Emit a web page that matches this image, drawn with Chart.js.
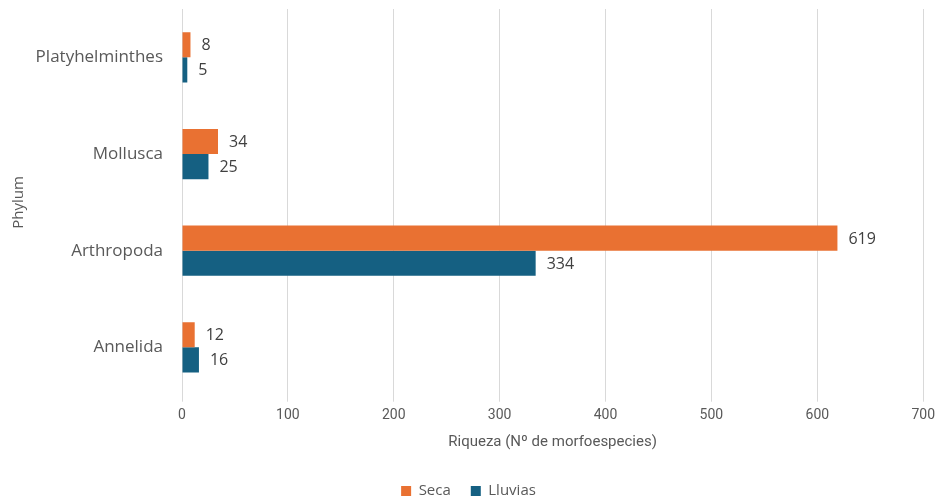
<!DOCTYPE html>
<html>
<head>
<meta charset="utf-8">
<script src="https://cdn.jsdelivr.net/npm/chart.js@4/dist/chart.umd.min.js"></script>
<style>
  html, body { margin: 0; padding: 0; background: #ffffff; }
  #wrap { width: 940px; height: 500px; position: relative; }
</style>
</head>
<body>
<div id="wrap"><canvas id="c" width="940" height="500"></canvas></div>
<script>
// Species richness per phylum, dry vs rainy season
const phyla = ["Platyhelminthes", "Mollusca", "Arthropoda", "Annelida"];
const seca = [8, 34, 619, 12];
const lluvias = [5, 25, 334, 16];
const xTicks = [0, 100, 200, 300, 400, 500, 600, 700];

const FONT = "'Open Sans', 'Lato', sans-serif";
const NARROW = "'Liberation Sans Narrow', 'Roboto', sans-serif";

// Writes each bar's value just past its end
const valueLabels = {
  id: 'valueLabels',
  afterDatasetsDraw(chart) {
    const ctx = chart.ctx;
    ctx.save();
    ctx.font = "16px " + FONT;
    ctx.fillStyle = '#404040';
    ctx.textAlign = 'left';
    ctx.textBaseline = 'middle';
    chart.data.datasets.forEach((ds, i) => {
      const meta = chart.getDatasetMeta(i);
      meta.data.forEach((el, j) => {
        ctx.fillText(String(ds.data[j]), el.x + 11, el.y + 1);
      });
    });
    ctx.restore();
  }
};

new Chart(document.getElementById('c'), {
  type: 'bar',
  data: {
    labels: phyla,
    datasets: [
      { label: 'Seca', data: seca, backgroundColor: '#E97132', categoryPercentage: 0.52, barPercentage: 1.0 },
      { label: 'Lluvias', data: lluvias, backgroundColor: '#156082', categoryPercentage: 0.52, barPercentage: 1.0 }
    ]
  },
  options: {
    indexAxis: 'y',
    responsive: false,
    animation: false,
    layout: { padding: { top: 9, right: 3, left: 0, bottom: -8.5 } },
    plugins: {
      tooltip: { enabled: false },
      legend: {
        position: 'bottom',
        labels: {
          usePointStyle: true,
          pointStyle: 'rect',
          boxWidth: 10,
          boxHeight: 10,
          padding: 20,
          color: '#595959',
          font: { family: FONT, size: 15 }
        }
      }
    },
    scales: {
      x: {
        min: 0,
        max: 700,
        afterBuildTicks(scale) { scale.ticks = xTicks.map(v => ({ value: v })); },
        grid: { color: '#d9d9d9', lineWidth: 1, tickLength: 6, drawTicks: true },
        border: { display: false },
        ticks: { color: '#595959', padding: 5, font: { family: NARROW, size: 14 } },
        title: {
          display: true,
          text: 'Riqueza (Nº de morfoespecies)',
          color: '#595959',
          padding: { top: 5, bottom: 12 },
          font: { family: NARROW, size: 15 }
        }
      },
      y: {
        // fixed label column; no extra half-label margin above/below the categories
        afterFit(scale) {
          scale.width = 182;
          scale.paddingTop = 0;
          scale.paddingBottom = 0;
        },
        grid: { display: false },
        border: { display: true, color: '#d9d9d9' },
        ticks: { color: '#595959', padding: 11, font: { family: FONT, size: 17 } },
        title: {
          display: true,
          text: 'Phylum',
          color: '#595959',
          padding: { top: 10, bottom: 0 },
          font: { family: FONT, size: 15 }
        }
      }
    }
  },
  plugins: [valueLabels]
});
</script>
</body>
</html>
